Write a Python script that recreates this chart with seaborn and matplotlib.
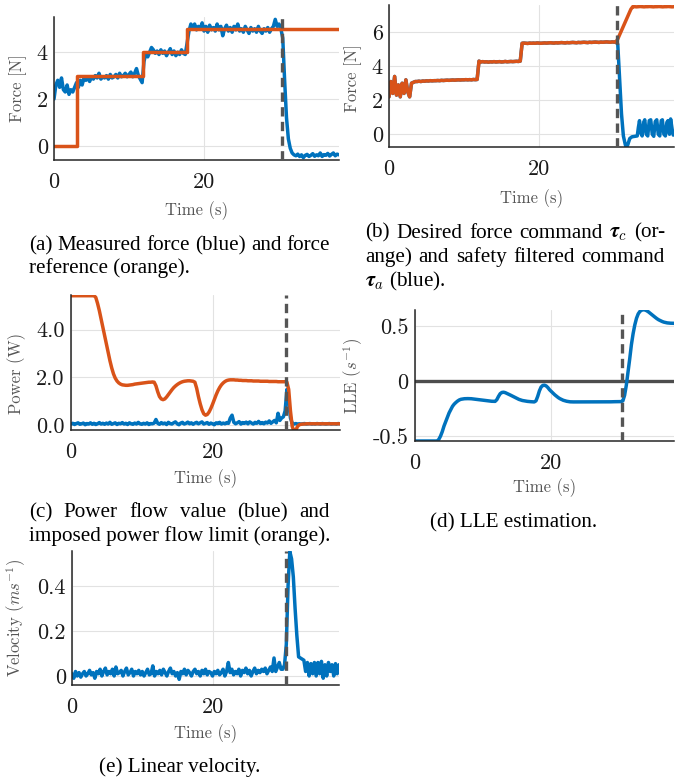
import numpy as np
import seaborn as sns
import matplotlib.pyplot as plt
from matplotlib.mathtext import MathTextParser

sns.set_theme(style="whitegrid")
plt.rcParams['font.family'] = 'cmr10'
plt.rcParams['mathtext.fontset'] = 'cm'
plt.rcParams['axes.unicode_minus'] = False

W, H = 686, 778
BLUE = '#0072BD'
ORANGE = '#D95319'
DASH = '#555555'
dt = 0.25          # sample spacing of the recorded series (s)
event_t = 30.4     # time of the safety intervention (s)

# (a) measured force and force reference
force_meas = [
    2.0, 2.6, 2.8, 2.5, 2.9, 2.4, 2.3, 2.6, 2.2, 2.4,
    2.3, 2.5, 2.7, 2.5, 2.8, 2.6, 2.9, 2.8, 2.9, 2.75,
    2.95, 2.85, 3.0, 2.9, 3.1, 2.85, 2.95, 2.9, 3.0, 2.85,
    3.05, 2.9, 2.95, 3.05, 2.9, 3.1, 2.95, 3.0, 3.1, 2.95,
    3.05, 3.15, 2.95, 3.1, 3.3, 3.0, 2.85, 2.7, 3.6, 3.95,
    3.8, 4.0, 4.2, 4.1, 3.95, 4.05, 3.9, 4.1, 3.95, 4.05,
    3.85, 4.0, 4.15, 3.9, 4.05, 3.85, 4.0, 3.9, 4.1, 3.95,
    3.9, 4.4, 4.9, 5.2, 5.05, 5.2, 4.95, 5.1, 5.0, 5.25,
    4.9, 5.1, 4.85, 5.15, 4.95, 5.05, 4.9, 5.2, 4.95, 5.1,
    4.7, 5.0, 5.15, 4.9, 5.05, 4.85, 5.1, 4.95, 5.2, 4.9,
    5.0, 4.85, 5.1, 4.95, 4.8, 5.05, 4.9, 5.0, 4.85, 5.1,
    4.9, 4.8, 5.0, 4.9, 5.05, 4.85, 5.0, 5.1, 5.4, 5.1,
    5.2, 5.0, 4.6, 2.8, 1.2, 0.3, -0.1, -0.3, -0.38, -0.42,
    -0.35, -0.45, -0.38, -0.5, -0.4, -0.36, -0.45, -0.4, -0.33, -0.44,
    -0.38, -0.42, -0.3, -0.45, -0.37, -0.4, -0.32, -0.43, -0.36, -0.3,
    -0.42, -0.35, -0.38,
]
ref_t = [0, 3.1, 3.1, 11.9, 11.9, 17.7, 17.7, 38]
ref_force = [0, 0, 3, 3, 4, 4, 5, 5]

# (b) desired command (orange) and safety filtered command (blue)
cmd_desired = [
    2.2, 3.1, 2.4, 3.4, 2.3, 2.9, 2.2, 3.0, 2.4, 3.2,
    2.5, 2.2, 3.0, 3.05, 3.1, 3.1, 3.12, 3.1, 3.13, 3.12,
    3.14, 3.13, 3.15, 3.14, 3.15, 3.15, 3.16, 3.15, 3.17, 3.16,
    3.17, 3.18, 3.17, 3.18, 3.19, 3.18, 3.19, 3.2, 3.19, 3.2,
    3.2, 3.21, 3.2, 3.21, 3.2, 3.22, 3.21, 3.22, 4.3, 4.25,
    4.27, 4.25, 4.26, 4.24, 4.26, 4.25, 4.27, 4.25, 4.26, 4.27,
    4.25, 4.26, 4.28, 4.26, 4.27, 4.28, 4.27, 4.28, 4.29, 4.28,
    4.3, 5.35, 5.36, 5.35, 5.34, 5.36, 5.35, 5.36, 5.35, 5.37,
    5.36, 5.35, 5.36, 5.37, 5.36, 5.37, 5.38, 5.37, 5.36, 5.38,
    5.37, 5.38, 5.39, 5.38, 5.37, 5.39, 5.38, 5.39, 5.4, 5.39,
    5.38, 5.4, 5.39, 5.4, 5.41, 5.4, 5.39, 5.41, 5.4, 5.41,
    5.42, 5.41, 5.4, 5.42, 5.41, 5.42, 5.43, 5.42, 5.41, 5.43,
    5.42, 5.42, 5.6, 5.85, 6.1, 6.35, 6.6, 6.85, 7.1, 7.35,
    7.5, 7.5, 7.49, 7.5, 7.51, 7.5, 7.49, 7.5, 7.5, 7.51,
    7.5, 7.49, 7.5, 7.5, 7.51, 7.5, 7.49, 7.5, 7.5, 7.51,
    7.5, 7.49, 7.5,
]
# filtered command follows the desired one until the intervention, then:
filt_tail_t = [30.5, 30.75, 31.0, 31.25, 31.5, 31.65, 31.85, 32.1, 32.4, 32.8,
               33.1, 33.25, 33.4, 33.55, 33.75, 33.95, 34.1, 34.3, 34.5, 34.7,
               34.9, 35.1, 35.3, 35.5, 35.7, 35.9, 36.1, 36.3, 36.45, 36.65,
               36.85, 37.05, 37.2, 37.4, 37.55, 37.75, 37.9]
filt_tail_v = [5.3, 3.2, 1.2, -0.1, -0.6, -0.8, -0.6, -0.25, -0.15, -0.12,
               -0.1, 0.4, 0.8, 0.1, -0.1, 0.7, 0.85, 0.0, -0.1, 0.8,
               0.85, 0.0, -0.12, 0.75, 0.85, 0.0, -0.1, 0.8, 0.85, 0.0,
               -0.1, 0.7, 0.8, 0.0, 0.9, 0.3, -0.05]

# (c) power flow (blue) and power flow limit (orange)
power_limit = [
    5.42, 5.42, 5.42, 5.42, 5.42, 5.42, 5.42, 5.42, 5.42, 5.42,
    5.42, 5.42, 5.42, 5.42, 5.35, 5.1, 4.8, 4.45, 4.1, 3.75,
    3.4, 3.05, 2.7, 2.4, 2.15, 1.97, 1.85, 1.77, 1.72, 1.69,
    1.68, 1.67, 1.67, 1.68, 1.69, 1.70, 1.72, 1.73, 1.74, 1.75,
    1.76, 1.77, 1.78, 1.79, 1.80, 1.80, 1.81, 1.80, 1.65, 1.4,
    1.2, 1.1, 1.07, 1.1, 1.18, 1.28, 1.38, 1.48, 1.57, 1.64,
    1.70, 1.75, 1.79, 1.82, 1.84, 1.85, 1.86, 1.86, 1.85, 1.84,
    1.80, 1.55, 1.2, 0.9, 0.65, 0.48, 0.42, 0.45, 0.55, 0.7,
    0.88, 1.08, 1.27, 1.44, 1.58, 1.69, 1.77, 1.83, 1.87, 1.89,
    1.90, 1.90, 1.90, 1.89, 1.89, 1.88, 1.88, 1.87, 1.87, 1.87,
    1.86, 1.86, 1.86, 1.85, 1.85, 1.85, 1.85, 1.84, 1.84, 1.84,
    1.84, 1.84, 1.83, 1.83, 1.83, 1.83, 1.83, 1.82, 1.82, 1.82,
    1.82, 1.82, 1.8, 1.5, 0.6, -0.05, -0.25, -0.22, -0.05, 0.02,
    0.04, 0.05, 0.05, 0.06, 0.06, 0.06, 0.06, 0.06, 0.06, 0.06,
    0.06, 0.06, 0.06, 0.06, 0.06, 0.06, 0.06, 0.06, 0.06, 0.06,
    0.06, 0.06, 0.06,
]
power_flow = [
    0.05, 0.08, 0.03, 0.07, 0.1, 0.04, 0.06, 0.09, 0.02, 0.07,
    0.05, 0.1, 0.04, 0.08, 0.03, 0.06, 0.11, 0.05, 0.08, 0.04,
    0.09, 0.05, 0.12, 0.04, 0.07, 0.1, 0.03, 0.08, 0.06, 0.11,
    0.05, 0.08, 0.03, 0.1, 0.06, 0.04, 0.09, 0.05, 0.12, 0.06,
    0.04, 0.08, 0.05, 0.1, 0.03, 0.07, 0.06, 0.09, 0.24, 0.08,
    0.04, 0.11, 0.06, 0.09, 0.03, 0.12, 0.07, 0.05, 0.1, 0.14,
    0.06, 0.02, 0.09, 0.12, 0.05, 0.08, 0.13, 0.06, 0.1, 0.04,
    0.09, 0.12, 0.06, 0.1, 0.14, 0.05, 0.08, 0.11, 0.04, 0.09,
    0.06, 0.02, 0.1, 0.07, 0.12, 0.05, 0.09, 0.06, 0.11, 0.08,
    0.3, 0.42, 0.12, 0.06, 0.1, 0.15, 0.05, 0.11, 0.08, 0.13,
    0.06, 0.14, 0.09, 0.05, 0.12, 0.08, 0.16, 0.07, 0.11, 0.06,
    0.13, 0.09, 0.18, 0.08, 0.14, 0.2, 0.1, 0.5, 0.2, 0.3,
    0.35, 0.6, 1.5, 1.0, 0.3, 0.08, 0.05, 0.07, 0.05, 0.06,
    0.05, 0.06, 0.07, 0.05, 0.06, 0.07, 0.05, 0.06, 0.05, 0.07,
    0.06, 0.05, 0.07, 0.06, 0.05, 0.06, 0.07, 0.05, 0.06, 0.06,
    0.05, 0.07, 0.06,
]

# (d) LLE estimate (1/s)
lle = [
    -0.545, -0.545, -0.545, -0.545, -0.545, -0.545, -0.545, -0.545, -0.545, -0.545,
    -0.545, -0.545, -0.545, -0.545, -0.53, -0.5, -0.46, -0.41, -0.37, -0.33,
    -0.29, -0.26, -0.23, -0.21, -0.195, -0.182, -0.172, -0.166, -0.163, -0.161,
    -0.16, -0.16, -0.16, -0.161, -0.163, -0.165, -0.167, -0.169, -0.171, -0.173,
    -0.175, -0.177, -0.179, -0.181, -0.183, -0.184, -0.185, -0.185, -0.17, -0.14,
    -0.115, -0.104, -0.102, -0.106, -0.113, -0.12, -0.128, -0.136, -0.144, -0.152,
    -0.16, -0.167, -0.172, -0.177, -0.18, -0.183, -0.185, -0.187, -0.188, -0.189,
    -0.19, -0.18, -0.14, -0.09, -0.055, -0.04, -0.038, -0.045, -0.06, -0.08,
    -0.095, -0.11, -0.125, -0.138, -0.15, -0.16, -0.168, -0.175, -0.18, -0.184,
    -0.187, -0.189, -0.19, -0.19, -0.19, -0.19, -0.19, -0.19, -0.19, -0.19,
    -0.19, -0.19, -0.19, -0.19, -0.19, -0.19, -0.19, -0.19, -0.19, -0.19,
    -0.19, -0.19, -0.189, -0.189, -0.189, -0.189, -0.188, -0.188, -0.188, -0.188,
    -0.188, -0.187, -0.18, -0.13, -0.04, 0.08, 0.2, 0.33, 0.43, 0.51,
    0.57, 0.61, 0.632, 0.643, 0.648, 0.645, 0.638, 0.628, 0.616, 0.603,
    0.59, 0.578, 0.566, 0.556, 0.548, 0.541, 0.535, 0.531, 0.528, 0.526,
    0.525, 0.524, 0.524,
]

# (e) linear velocity (m/s)
velocity = [
    0.01, -0.01, 0.02, 0.0, 0.015, -0.005, 0.01, 0.02, 0.0, 0.01,
    0.025, 0.005, 0.015, -0.01, 0.02, 0.01, 0.03, 0.0, 0.02, 0.035,
    0.005, 0.02, 0.01, 0.03, 0.0, 0.04, 0.01, 0.015, 0.025, 0.0,
    0.02, 0.035, 0.005, 0.015, 0.03, 0.0, 0.02, 0.01, 0.025, 0.005,
    0.02, 0.0, 0.015, 0.03, 0.005, 0.01, 0.045, 0.0, 0.02, 0.01,
    0.025, 0.005, 0.03, 0.015, 0.0, 0.02, 0.035, 0.01, 0.02, 0.0,
    0.015, -0.015, 0.02, 0.01, 0.03, 0.005, 0.025, 0.015, 0.0, 0.02,
    0.03, 0.01, 0.02, 0.0, 0.025, 0.01, 0.03, 0.005, 0.02, 0.015,
    0.0, 0.02, 0.01, 0.025, 0.005, 0.015, 0.03, 0.0, 0.02, 0.06,
    0.015, 0.03, 0.005, 0.02, 0.01, 0.03, 0.0, 0.025, 0.015, 0.035,
    0.01, 0.025, 0.0, 0.02, 0.035, 0.01, 0.025, 0.015, 0.03, 0.02,
    0.035, 0.01, 0.025, 0.04, 0.02, 0.08, 0.02, 0.04, 0.06, 0.03,
    0.03, 0.05, 0.14, 0.4, 0.553, 0.52, 0.44, 0.3, 0.18, 0.085,
    0.08, 0.075, 0.07, 0.02, 0.06, 0.0, 0.055, 0.01, 0.06, 0.0,
    0.06, 0.01, 0.065, -0.01, 0.05, 0.0, 0.06, 0.02, 0.05, 0.0,
    0.055, 0.01, 0.05,
]


def tvec(values):
    return np.arange(len(values)) * dt


# bold tau if mathtext knows \boldsymbol, plain tau otherwise
try:
    MathTextParser('agg').parse(r'$\boldsymbol{\tau}_c$', dpi=100)
    TAU = r'\boldsymbol{\tau}'
except Exception:
    TAU = r'\tau'

fig = plt.figure(figsize=(W / 100, H / 100), dpi=100)


def px_axes(box):
    left, top, right, bottom = box
    return fig.add_axes([left / W, 1 - bottom / H, (right - left) / W, (bottom - top) / H])


def line(ax, x, y, color):
    sns.lineplot(x=x, y=y, ax=ax, color=color, linewidth=2.5,
                 estimator=None, sort=False, legend=False)


def style_axes(ax, box, ylim, yticks, yticklabels, ylabel, ylab_xy, xlab_top):
    left, top, right, bottom = box
    ax.set_xlim(0, 38)
    ax.set_ylim(*ylim)
    ax.set_xticks([0, 20], ['0', '20'])
    ax.set_yticks(yticks, yticklabels)
    ax.tick_params(length=0, labelsize=16, labelcolor='#1a1a1a')
    ax.tick_params(axis='x', pad=9)
    ax.tick_params(axis='y', pad=4.5)
    ax.grid(True, color='#e2e2e2', linewidth=0.8)
    ax.set_axisbelow(True)
    for s in ['top', 'right']:
        ax.spines[s].set_visible(False)
    for s in ['left', 'bottom']:
        ax.spines[s].set_color('#262626')
        ax.spines[s].set_linewidth(1.1)
    ax.axvline(event_t, color=DASH, linewidth=2.4, linestyle=(0, (2.8, 1.6)), zorder=5)
    ax.set_xlabel('Time (s)', fontsize=12, color='#555555')
    ax.set_ylabel(ylabel, fontsize=12, color='#555555')
    ax.xaxis.set_label_coords(0.5, (bottom - xlab_top) / (bottom - top))
    ax.yaxis.set_label_coords((ylab_xy[0] - left) / (right - left),
                              (bottom - ylab_xy[1]) / (bottom - top))


# (a)
box_a = (54, 17, 339, 160)
ax = px_axes(box_a)
line(ax, tvec(force_meas), force_meas, BLUE)
line(ax, ref_t, ref_force, ORANGE)
style_axes(ax, box_a, (-0.6, 5.5), [0, 2, 4], ['0', '2', '4'], 'Force [N]', (27, 88), 201)

# (b)
box_b = (389, 5, 674, 147)
ax = px_axes(box_b)
t_b = tvec(cmd_desired)
keep = t_b < filt_tail_t[0]
filt_t = np.concatenate([t_b[keep], filt_tail_t])
filt_v = np.concatenate([np.array(cmd_desired)[keep], filt_tail_v])
line(ax, filt_t, filt_v, BLUE)
line(ax, t_b, cmd_desired, ORANGE)
style_axes(ax, box_b, (-0.75, 7.6), [0, 2, 4, 6], ['0', '2', '4', '6'], 'Force [N]', (362, 78), 189)

# (c)
box_c = (71, 295, 340, 430)
ax = px_axes(box_c)
line(ax, tvec(power_flow), power_flow, BLUE)
line(ax, tvec(power_limit), power_limit, ORANGE)
style_axes(ax, box_c, (-0.2, 5.45), [0, 2, 4], ['0.0', '2.0', '4.0'], 'Power (W)', (26, 373), 469)

# (d)
box_d = (415, 310, 674, 441)
ax = px_axes(box_d)
ax.axhline(0, color='#4d4d4d', linewidth=2.4, zorder=1.8)
line(ax, tvec(lle), lle, BLUE)
style_axes(ax, box_d, (-0.545, 0.645), [-0.5, 0, 0.5], ['-0.5', '0', '0.5'],
           r'LLE ($s^{-1}$)', (365, 376), 478)

# (e)
box_e = (72, 551, 339, 685)
ax = px_axes(box_e)
line(ax, tvec(velocity), velocity, BLUE)
style_axes(ax, box_e, (-0.04, 0.555), [0, 0.2, 0.4], ['0', '0.2', '0.4'],
           r'Velocity ($ms^{-1}$)', (28, 618), 724)

# captions
CAP = dict(fontsize=15.2, family='Liberation Serif', color='black', va='baseline')
renderer = fig.canvas.get_renderer()


def caption(lines, x0, x1, y0, dy):
    for i, (txt, mode) in enumerate(lines):
        y = 1 - (y0 + i * dy) / H
        if mode == 'center':
            fig.text((x0 + x1) / 2 / W, y, txt, ha='center', **CAP)
        elif mode == 'left':
            fig.text(x0 / W, y, txt, ha='left', **CAP)
        else:
            words = txt.split(' ')
            texts = [fig.text(0, y, w, ha='left', **CAP) for w in words]
            widths = [t.get_window_extent(renderer).width for t in texts]
            gap = max((x1 - x0 - sum(widths)) / (len(words) - 1), 3)
            x = x0
            for t, w in zip(texts, widths):
                t.set_x(x / W)
                x += w + gap


caption([('(a) Measured force (blue) and force', 'justify'),
         ('reference (orange).', 'left')], 29, 330, 250, 23)
caption([('(b) Desired force command $' + TAU + '_c$ (or-', 'justify'),
         ('ange) and safety filtered command', 'justify'),
         ('$' + TAU + '_a$ (blue).', 'left')], 365, 665, 237.5, 24.5)
caption([('(c) Power flow value (blue) and', 'justify'),
         ('imposed power flow limit (orange).', 'left')], 29, 330, 517, 24)
caption([('(d) LLE estimation.', 'center')], 428, 600, 527, 24)
caption([('(e) Linear velocity.', 'center')], 97, 262, 772, 24)

fig.savefig('out.png', dpi=100)
